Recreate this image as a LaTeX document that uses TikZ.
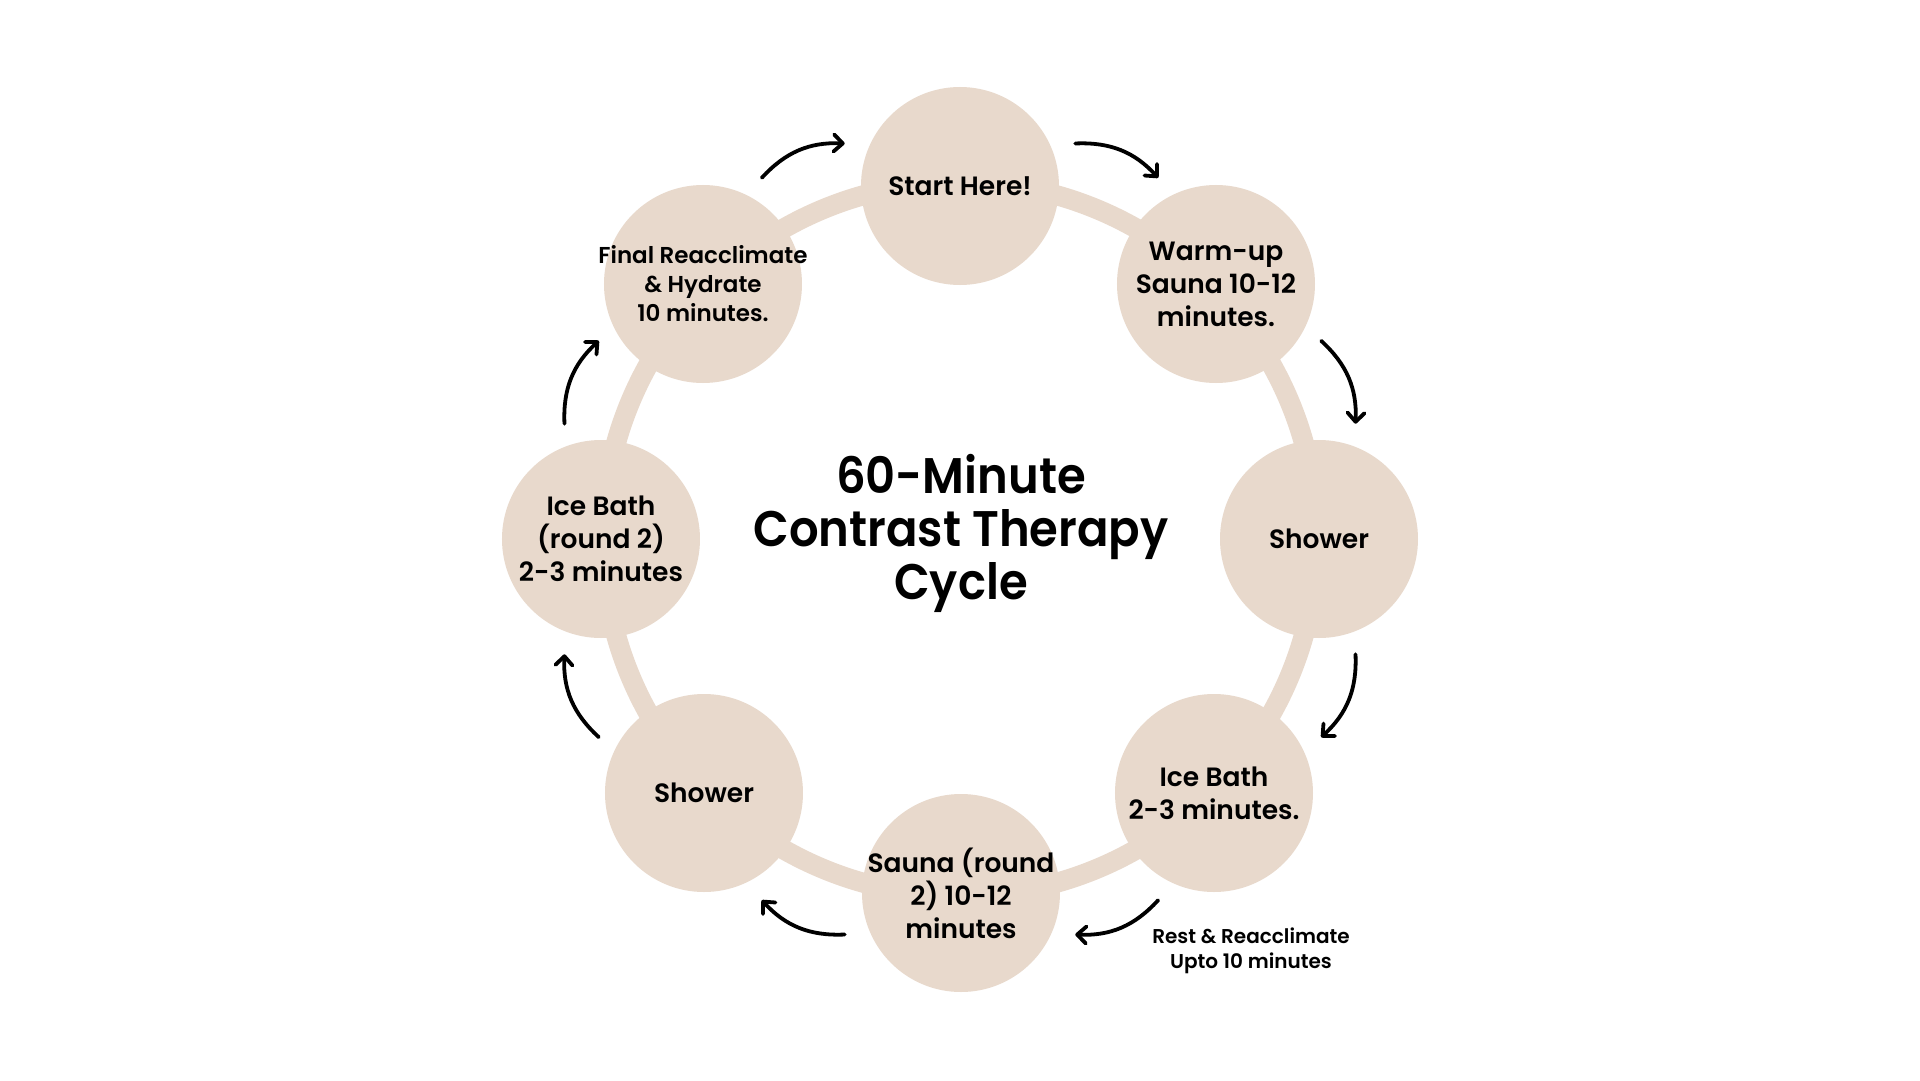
\documentclass[tikz,border=0pt]{standalone}
\usepackage{fontspec}
\setmainfont{Poppins}
\newfontfamily\nodefont{Poppins}[UprightFont=* SemiBold]
\newfontfamily\titlefont{Poppins}[UprightFont=* SemiBold]
\usetikzlibrary{arrows.meta}
\definecolor{sand}{HTML}{E8D9CC}
\begin{document}
\begin{tikzpicture}[x=1pt,y=1pt,
  stage/.style={circle, fill=sand, minimum size=198pt, inner sep=0pt},
  stagetext/.style={align=center, text=black, inner sep=0pt, font=\nodefont\fontsize{26.5}{33}\selectfont},
  smalltext/.style={align=center, text=black, inner sep=0pt, font=\nodefont\fontsize{23}{29}\selectfont},
  flow/.style={line width=3.8pt, line cap=round, -{Straight Barb[length=9pt,width=17pt,line cap=round,line join=round]}, bend left=25}]
\fill[white] (-960,-541) rectangle (960,539);
\useasboundingbox (-960,-541) rectangle (960,539);
\draw[sand, line width=20pt] (0,0) circle[radius=357];
\node[stage, label={[stagetext]center:Start Here!}] (start) at (0,353) {};
\node[stage, label={[stagetext]center:Warm-up\\Sauna 10-12\\minutes.}] (warm) at (256,255) {};
\node[stage, label={[stagetext]center:Shower}] (showerA) at (359,0) {};
\node[stage, label={[stagetext]center:Ice Bath\\2-3 minutes.}] (iceA) at (254,-254) {};
\node[stage, label={[stagetext]center:Sauna (round\\2) 10-12\\minutes}] (saunaB) at (1,-354) {};
\node[stage, label={[stagetext]center:Shower}] (showerB) at (-256,-254) {};
\node[stage, label={[stagetext]center:Ice Bath\\(round 2)\\2-3 minutes}] (iceB) at (-359,0) {};
\node[stage, label={[smalltext]center:Final Reacclimate\\\& Hydrate\\10 minutes.}] (final) at (-257,255) {};
\node[align=center, inner sep=0pt, font=\titlefont\fontsize{50}{53}\selectfont] (title) at (1,4)
  {\scalebox{0.93}[1]{\begin{tabular}{@{}c@{}}60-Minute\\Contrast Therapy\\Cycle\end{tabular}}};
\node[align=center, inner sep=0pt, font=\nodefont\fontsize{20}{25}\selectfont] (restnote) at (291,-412)
  {Rest \& Reacclimate\\Upto 10 minutes};
\foreach \m [count=\i] in {112.5,67.5,22.5,-22.5,-67.5,-112.5,-157.5,157.5} {
  \coordinate (a\i-s) at (\m+6.25:412);
  \coordinate (a\i-e) at (\m-6.25:412);
  \draw[flow] (a\i-s) to (a\i-e);
}
\end{tikzpicture}
\end{document}
